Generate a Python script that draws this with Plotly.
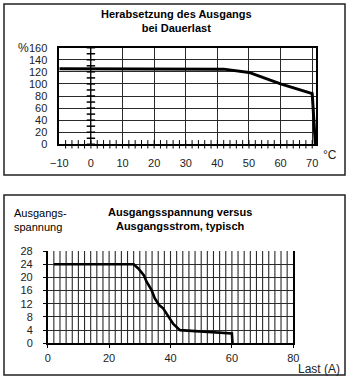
import numpy as np
import plotly.graph_objects as go

W, H = 350, 380
FONT = "Liberation Sans, Arial, sans-serif"
GRID = "#2a2a2a"

# Derating curve: permitted output (%) over ambient temperature (°C)
temp_c = [-10, 40, 42, 50, 60, 70, 71]
load_pct = [125, 125, 124.5, 119, 100, 84, 0]

# Typical output voltage (V) over load current (A)
current_a = [2, 28, 29.5, 31.3, 32.2, 33.8, 34.9, 36.3, 37.6, 39.3, 40.9, 43.1, 49.6, 60, 60.2]
voltage_v = [24, 24, 22.7, 20.7, 18.7, 16.2, 13.6, 11.6, 10.6, 8.1, 5.9, 4.0, 3.7, 3.0, 0]

# Tick values
top_x_ticks = list(range(-10, 71, 10))
top_x_minor = list(range(-8, 71, 2))
top_y_ticks = list(range(0, 161, 20))
zero_axis_ticks = list(range(0, 161, 10))
bot_x_ticks = list(range(0, 81, 20))
bot_x_grid = list(range(2, 80, 2))
bot_y_ticks = list(range(0, 29, 4))


def px(x):
    return x / W


def py(y):
    return 1 - y / H


fig = go.Figure()

# --- upper chart -------------------------------------------------------
fig.add_trace(go.Scatter(
    x=[0] * len(zero_axis_ticks), y=zero_axis_ticks,
    xaxis="x", yaxis="y", mode="lines+markers",
    line=dict(color="black", width=1),
    marker=dict(symbol="line-ew", size=6, line=dict(color="black", width=1.5)),
    hoverinfo="skip", showlegend=False, cliponaxis=False,
))
fig.add_trace(go.Scatter(
    x=top_x_minor, y=[0] * len(top_x_minor),
    xaxis="x", yaxis="y", mode="markers",
    marker=dict(symbol="line-ns", size=6, line=dict(color="black", width=1)),
    hoverinfo="skip", showlegend=False, cliponaxis=False,
))
fig.add_trace(go.Scatter(
    x=temp_c, y=load_pct, xaxis="x", yaxis="y", mode="lines",
    line=dict(color="black", width=3), showlegend=False, cliponaxis=False,
))

# --- lower chart -------------------------------------------------------
fig.add_trace(go.Scatter(
    x=current_a, y=voltage_v, xaxis="x2", yaxis="y2", mode="lines",
    line=dict(color="black", width=2.6), showlegend=False, cliponaxis=False,
))

tick_font = dict(family=FONT, size=11, color="#222")

# dense vertical grid of the lower chart, one line per 2 A
grid_shapes = [
    dict(type="line", xref="x2", yref="y2 domain", x0=v, x1=v, y0=0, y1=1,
         layer="below", line=dict(color=GRID, width=1.1))
    for v in bot_x_grid
]

fig.update_layout(
    width=W, height=H,
    margin=dict(l=0, r=0, t=0, b=0),
    paper_bgcolor="white", plot_bgcolor="white",
    template="none",
    showlegend=False,
    xaxis=dict(
        domain=[px(59.3), px(316)], anchor="y",
        range=[-10, 71.2], tickvals=top_x_ticks,
        showgrid=True, gridcolor=GRID, gridwidth=1,
        zeroline=False, showline=True, mirror=True,
        linecolor="black", linewidth=1.5, ticks="",
        tickfont=tick_font, ticklabelstandoff=8,
    ),
    yaxis=dict(
        domain=[py(144.3), py(47.7)], anchor="x",
        range=[0, 160], tickvals=top_y_ticks,
        showgrid=True, gridcolor=GRID, gridwidth=1,
        zeroline=False, showline=True, mirror=True,
        linecolor="black", linewidth=1.5, ticks="",
        tickfont=tick_font, ticklabelstandoff=8,
    ),
    xaxis2=dict(
        domain=[px(47.7), px(293.3)], anchor="y2",
        range=[0, 80], tickvals=bot_x_ticks,
        showgrid=False, zeroline=False,
        showline=True, linecolor="black", linewidth=1.5,
        ticks="outside", ticklen=3, tickcolor="black",
        tickfont=tick_font, ticklabelstandoff=1,
    ),
    yaxis2=dict(
        domain=[py(343.3), py(251)], anchor="x2",
        range=[0, 28], tickvals=bot_y_ticks,
        showgrid=False, zeroline=False,
        showline=True, mirror=True, linecolor="black", linewidth=1.5,
        ticks="outside", ticklen=3, tickcolor="black",
        minor=dict(tickvals=bot_y_ticks[1:-1], showgrid=True, gridcolor=GRID,
                   gridwidth=1.2, ticks=""),
        tickfont=tick_font, ticklabelstandoff=8,
    ),
    shapes=grid_shapes + [
        dict(type="rect", xref="paper", yref="paper",
             x0=px(4), x1=px(345), y0=py(175), y1=py(4),
             line=dict(color="#222", width=1.5)),
        dict(type="rect", xref="paper", yref="paper",
             x0=px(4), x1=px(345), y0=py(375), y1=py(195),
             line=dict(color="#222", width=1.5)),
    ],
)

ann_font = dict(family=FONT, size=11, color="black")
fig.add_annotation(text="<b>Herabsetzung des Ausgangs<br>bei Dauerlast</b>",
                   xref="paper", yref="paper", x=px(177), y=py(21),
                   xanchor="center", yanchor="middle", showarrow=False,
                   font=ann_font)
fig.add_annotation(text="%", xref="paper", yref="paper", x=px(31), y=py(48),
                   xanchor="right", yanchor="middle", showarrow=False,
                   font=dict(family=FONT, size=12, color="#222"))
fig.add_annotation(text="°C", xref="paper", yref="paper", x=px(321), y=py(155),
                   xanchor="left", yanchor="middle", showarrow=False,
                   font=dict(family=FONT, size=12, color="#222"))
fig.add_annotation(text="<b>Ausgangsspannung versus<br>Ausgangsstrom, typisch</b>",
                   xref="paper", yref="paper", x=px(180), y=py(219),
                   xanchor="center", yanchor="middle", showarrow=False,
                   font=ann_font)
fig.add_annotation(text="Ausgangs-<br>spannung", xref="paper", yref="paper",
                   x=px(12), y=py(220), xanchor="left", yanchor="middle",
                   align="left", showarrow=False, font=ann_font)
fig.add_annotation(text="Last (A)", xref="paper", yref="paper", x=px(296), y=py(369),
                   xanchor="left", yanchor="middle", showarrow=False,
                   font=dict(family=FONT, size=12, color="#222"))

fig.write_html("out.html")
